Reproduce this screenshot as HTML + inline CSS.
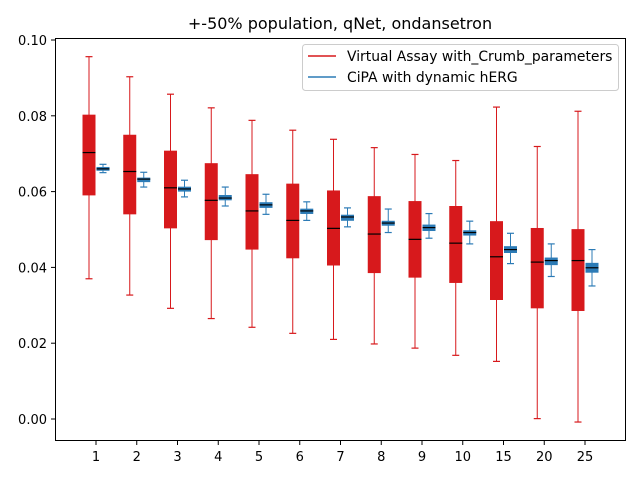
<!DOCTYPE html>
<html><head><meta charset="utf-8"><style>
body{margin:0;background:#fff;font-family:"Liberation Sans","DejaVu Sans",sans-serif}
svg text{font-family:"DejaVu Sans","Liberation Sans",sans-serif}
</style></head><body>
<svg id="c" width="640" height="480">
<rect x="0" y="0" width="640" height="480" fill="#fff"/>
<text x="340" y="29" font-size="16" text-anchor="middle">+-50% population, qNet, ondansetron</text>
<g id="plot"></g>
<rect x="55.5" y="38.5" width="570" height="402" fill="none" stroke="#000" stroke-width="1"/>
<g>
<rect x="302.5" y="44.5" width="316" height="46" rx="3" fill="#fff" fill-opacity="0.8" stroke="#ccc"/>
<line x1="308" y1="56" x2="336" y2="56" stroke="#d7191c" stroke-width="1.5"/>
<text x="347" y="61" font-size="13.9">Virtual Assay with_Crumb_parameters</text>
<line x1="308" y1="77" x2="336" y2="77" stroke="#2c7bb6" stroke-width="1.5"/>
<text x="347" y="82" font-size="13.9">CiPA with dynamic hERG</text>
</g>
</svg>
<script>
const categories=["1","2","3","4","5","6","7","8","9","10","15","20","25"];
const redMin=[.037,.0327,.0292,.0265,.0242,.0226,.021,.0198,.0187,.0168,.0152,.0001,-.0008];
const redQ1=[.059,.054,.0503,.0472,.0447,.0424,.0405,.0385,.0373,.0359,.0314,.0292,.0285];
const redMed=[.0703,.0653,.061,.0577,.0549,.0524,.0503,.0488,.0474,.0464,.0428,.0414,.0418];
const redQ3=[.0803,.075,.0708,.0675,.0646,.0621,.0603,.0588,.0575,.0562,.0522,.0504,.0501];
const redMax=[.0956,.0903,.0857,.0821,.0788,.0762,.0738,.0716,.0698,.0682,.0823,.0719,.0812];
const blueMin=[.065,.0612,.0586,.0562,.054,.0524,.0507,.0492,.0477,.0462,.041,.0376,.0351];
const blueQ1=[.0655,.0625,.06,.0577,.0557,.0541,.0523,.051,.0496,.0484,.0438,.0406,.0386];
const blueMed=[.066,.0633,.0607,.0583,.0565,.0549,.0533,.0517,.0505,.0492,.0447,.0418,.0399];
const blueQ3=[.0665,.0637,.0613,.0591,.0572,.0555,.0539,.0523,.0513,.0498,.0456,.0426,.0412];
const blueMax=[.0672,.0651,.063,.0612,.0593,.0573,.0557,.0554,.0542,.0522,.049,.0462,.0447];
const yTicks=[0,0.02,0.04,0.06,0.08,0.1];
const yTickLabels=["0.00","0.02","0.04","0.06","0.08","0.10"];
const NS="http://www.w3.org/2000/svg";
const g=document.getElementById('plot');
const y=v=>419-v*3790;
const x=i=>96+i*40.75;
function mk(t,a,p){const e=document.createElementNS(NS,t);for(const k in a)e.setAttribute(k,a[k]);(p||g).appendChild(e);return e;}
yTicks.forEach((v,i)=>{
 const tk=mk('line',{x1:51,x2:55,y1:y(v),y2:y(v),stroke:'#000'});
 
 
 const t=mk('text',{x:47,y:y(v)+5,'font-size':13,'text-anchor':'end'});t.textContent=yTickLabels[i];
 
 
});
categories.forEach((c,i)=>{
 const tk=mk('line',{x1:x(i),x2:x(i),y1:441,y2:445,stroke:'#000'});
 
 
 const t=mk('text',{x:x(i),y:461,'font-size':13,'text-anchor':'middle'});t.textContent=c;
 
 
});
function box(cx,mn,q1,md,q3,mx,col,name,capw){
 const grp=mk('g',{});
 
 
 const w=13;
 mk('line',{x1:cx,x2:cx,y1:y(mx),y2:y(mn),stroke:col,'stroke-width':1},grp);
 mk('line',{x1:cx-capw,x2:cx+capw,y1:y(mx),y2:y(mx),stroke:col,'stroke-width':1.2},grp);
 mk('line',{x1:cx-capw,x2:cx+capw,y1:y(mn),y2:y(mn),stroke:col,'stroke-width':1.2},grp);
 mk('rect',{x:cx-w/2,y:y(q3),width:w,height:Math.max(1,y(q1)-y(q3)),fill:col},grp);
 mk('line',{x1:cx-w/2,x2:cx+w/2,y1:y(md),y2:y(md),stroke:'#000','stroke-width':1.2},grp);
}
categories.forEach((c,i)=>{
 box(x(i)-7,redMin[i],redQ1[i],redMed[i],redQ3[i],redMax[i],'#d7191c','virtual-assay-box-'+c,3.5);
 box(x(i)+7,blueMin[i],blueQ1[i],blueMed[i],blueQ3[i],blueMax[i],'#2c7bb6','cipa-box-'+c,3.5);
});
</script>
</body></html>
